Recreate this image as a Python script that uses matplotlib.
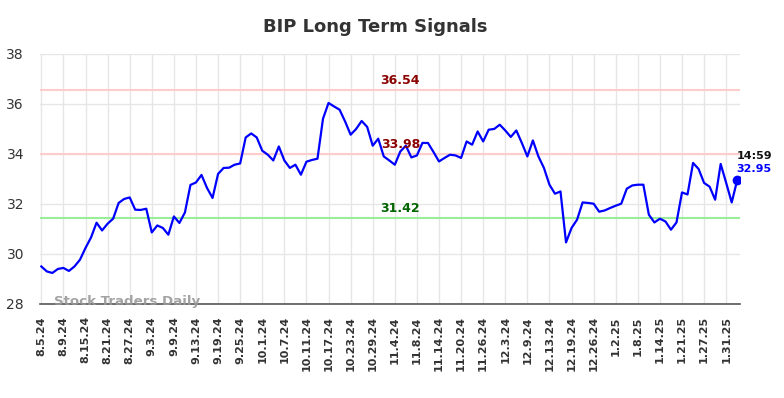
import matplotlib
matplotlib.use("Agg")
import matplotlib.pyplot as plt

title = "BIP Long Term Signals"
tick_labels = ["8.5.24", "8.9.24", "8.15.24", "8.21.24", "8.27.24", "9.3.24", "9.9.24",
               "9.13.24", "9.19.24", "9.25.24", "10.1.24", "10.7.24", "10.11.24", "10.17.24",
               "10.23.24", "10.29.24", "11.4.24", "11.8.24", "11.14.24", "11.20.24", "11.26.24",
               "12.3.24", "12.9.24", "12.13.24", "12.19.24", "12.26.24", "1.2.25", "1.8.25",
               "1.14.25", "1.21.25", "1.27.25", "1.31.25"]
tick_step = 4

prices = [29.49, 29.29, 29.23, 29.39, 29.43, 29.31, 29.49, 29.76, 30.23, 30.65,
          31.24, 30.93, 31.20, 31.40, 32.03, 32.19, 32.25, 31.76, 31.75, 31.80,
          30.85, 31.13, 31.03, 30.76, 31.49, 31.23, 31.65, 32.75, 32.85, 33.15,
          32.63, 32.23, 33.19, 33.43, 33.44, 33.56, 33.61, 34.65, 34.81, 34.65,
          34.12, 33.96, 33.73, 34.29, 33.73, 33.43, 33.56, 33.16, 33.68, 33.75,
          33.80, 35.40, 36.03, 35.89, 35.76, 35.29, 34.76, 34.99, 35.31, 35.07,
          34.32, 34.60, 33.89, 33.73, 33.56, 34.09, 34.32, 33.85, 33.93, 34.43,
          34.43, 34.07, 33.69, 33.83, 33.96, 33.93, 33.83, 34.49, 34.36, 34.89,
          34.49, 34.96, 34.99, 35.16, 34.93, 34.67, 34.93, 34.43, 33.89, 34.53,
          33.89, 33.43, 32.76, 32.40, 32.49, 30.45, 31.03, 31.36, 32.05, 32.03,
          32.00, 31.68, 31.73, 31.83, 31.92, 32.00, 32.60, 32.73, 32.76, 32.76,
          31.56, 31.25, 31.40, 31.29, 30.96, 31.25, 32.45, 32.37, 33.63, 33.39,
          32.83, 32.68, 32.16, 33.59, 32.83, 32.05, 32.95]

upper_level = 36.54
mid_level = 33.98
lower_level = 31.42
last_time = "14:59"
watermark = "Stock Traders Daily"

fig = plt.figure(figsize=(7.84, 3.98), dpi=100)
ax = fig.add_axes([40/784, 1-303.7/398, 700/784, 250/398])

x = list(range(len(prices)))
ax.plot(x, prices, color="#0000ff", lw=1.6, zorder=3)
ax.plot([x[-1]], [prices[-1]], "o", color="#0000ff", ms=6, zorder=4)

ax.axhline(upper_level, color="#ffcccc", lw=1.5, zorder=2)
ax.axhline(mid_level, color="#ffcccc", lw=1.5, zorder=2)
ax.axhline(lower_level, color="#99ee99", lw=1.5, zorder=2)

lx = 65
ax.text(lx, upper_level + 0.12, f"{upper_level:.2f}", color="#8b0000", fontsize=9,
        fontweight="bold", ha="center", va="bottom", zorder=5)
ax.text(lx, mid_level + 0.12, f"{mid_level:.2f}", color="#8b0000", fontsize=9,
        fontweight="bold", ha="center", va="bottom", zorder=5)
ax.text(lx, lower_level + 0.12, f"{lower_level:.2f}", color="#006400", fontsize=9,
        fontweight="bold", ha="center", va="bottom", zorder=5)

ax.annotate(last_time, (x[-1], prices[-1]), xytext=(-0.5, 13.5), textcoords="offset points",
            ha="left", va="bottom", fontsize=8, fontweight="bold", color="#111111")
ax.annotate(f"{prices[-1]:.2f}", (x[-1], prices[-1]), xytext=(-0.5, 4), textcoords="offset points",
            ha="left", va="bottom", fontsize=8, fontweight="bold", color="#0000ff")

ax.text(2.3, 28.1, watermark, color="#999999", fontsize=9.6, fontweight="bold",
        ha="left", va="center", alpha=0.9, zorder=5)

ax.set_xlim(-0.24, 126.5)
ax.set_ylim(28, 38)
ticks = [i * tick_step for i in range(len(tick_labels))]
ax.set_xticks(ticks)
ax.set_xticklabels(tick_labels, rotation=90, fontsize=8, fontweight="bold", color="#333333")
ax.set_yticks([28, 30, 32, 34, 36, 38])
ax.tick_params(axis="y", labelsize=10, colors="#333333", length=0, pad=11.5)
ax.tick_params(axis="x", length=0, pad=9)
ax.grid(True, color="#e6e6e6", lw=1)
ax.set_axisbelow(True)
for s in ["top", "right", "left"]:
    ax.spines[s].set_visible(False)
ax.spines["bottom"].set_color("#555555")
ax.spines["bottom"].set_linewidth(1.2)

fig.suptitle(title, x=0.478, y=0.955, fontsize=13, fontweight="bold", color="#333333")

fig.savefig("out.png", dpi=100, facecolor="white")
